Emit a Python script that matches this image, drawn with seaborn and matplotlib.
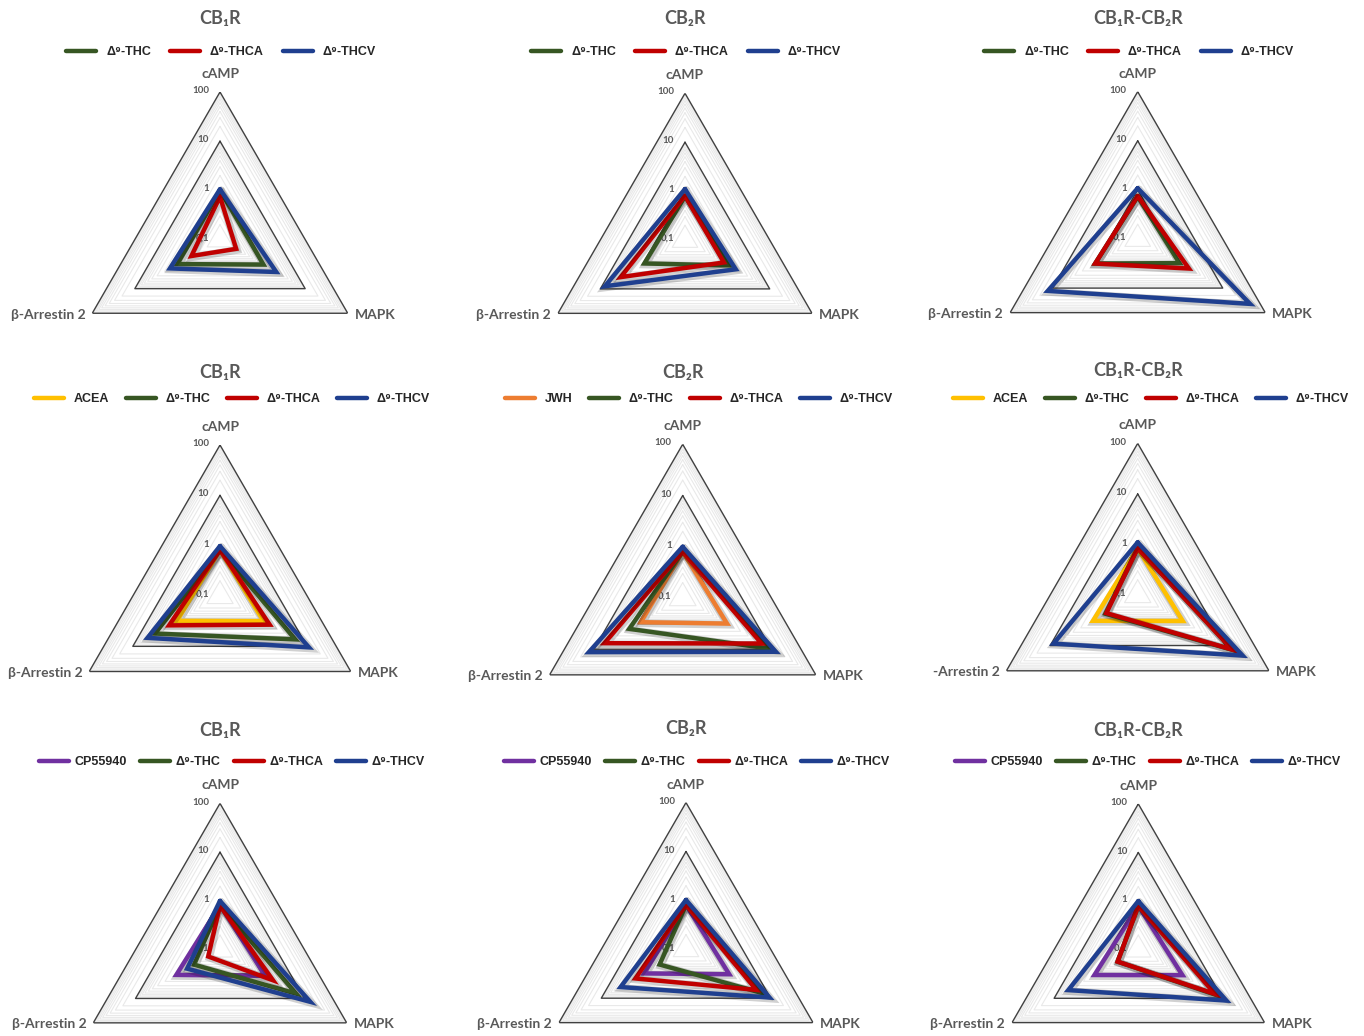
import numpy as np
import matplotlib
matplotlib.use('Agg')
import matplotlib.pyplot as plt
import matplotlib.patheffects as pe
from matplotlib.lines import Line2D
import seaborn as sns

# ---------------- data ----------------
axis_labels = ['cAMP', 'MAPK', 'β-Arrestin 2']          # order of the radar axes
tick_values = [0.1, 1, 10, 100]
tick_labels = ['0,1', '1', '10', '100']
titles = ['CB₁R', 'CB₂R', 'CB₁R-CB₂R']

# values per compound: [cAMP, MAPK, β-Arrestin 2]
# row 1
r1_cb1_thc = [1.0, 1.05, 1.0]
r1_cb1_thca = [0.74, 0.24, 0.47]
r1_cb1_thcv = [1.05, 2.1, 1.5]
r1_cb2_thc = [0.78, 1.1, 0.91]
r1_cb2_thca = [0.8, 0.83, 3.3]
r1_cb2_thcv = [1.1, 1.58, 7.8]
r1_het_thc = [0.73, 0.96, 1.0]
r1_het_thca = [0.75, 1.6, 1.0]
r1_het_thcv = [1.08, 44, 13]
# row 2
r2_cb1_acea = [0.82, 1.0, 0.97]
r2_cb1_thc = [0.82, 5.3, 3.1]
r2_cb1_thca = [0.82, 1.38, 1.47]
r2_cb1_thcv = [0.98, 11, 4.6]
r2_cb2_jwh = [0.8, 1.0, 0.88]
r2_cb2_thc = [0.8, 9.6, 1.6]
r2_cb2_thca = [0.8, 6.0, 5.8]
r2_cb2_thcv = [1.0, 12.6, 13]
r2_het_acea = [0.84, 1.07, 1.05]
r2_het_thc = [0.84, 15, 0.55]
r2_het_thca = [0.84, 14.5, 0.52]
r2_het_thcv = [1.1, 25, 8.4]
# row 3
r3_cb1_cp = [0.82, 1.18, 1.08]
r3_cb1_thc = [0.82, 6.3, 0.41]
r3_cb1_thca = [0.8, 1.8, 0.19]
r3_cb1_thcv = [1.0, 13.8, 0.6]
r3_cb2_cp = [0.81, 1.05, 0.97]
r3_cb2_thc = [0.81, 6.0, 0.42]
r3_cb2_thca = [0.81, 4.6, 1.56]
r3_cb2_thcv = [1.02, 9.4, 3.5]
r3_het_cp = [0.8, 1.12, 1.1]
r3_het_thc = [0.8, 7.5, 0.31]
r3_het_thca = [0.8, 6.7, 0.31]
r3_het_thcv = [1.0, 12.4, 4.6]

THC, THCA, THCV = 'Δ⁹-THC', 'Δ⁹-THCA', 'Δ⁹-THCV'
colors = {'ACEA': '#FFC000', 'JWH': '#ED7D31', 'CP55940': '#7030A0',
          THC: '#375623', THCA: '#C00000', THCV: '#1F3F8F'}

# (centre x, centre y, radius, title y, legend x, legend y) in pixels; series; left label
panels = [
    (220.0, 239.5, 147.5, 19, 221, 52, titles[0],
     [(THC, r1_cb1_thc), (THCA, r1_cb1_thca), (THCV, r1_cb1_thcv)], axis_labels[2]),
    (685.0, 240.0, 146.7, 19, 686, 52, titles[1],
     [(THC, r1_cb2_thc), (THCA, r1_cb2_thca), (THCV, r1_cb2_thcv)], axis_labels[2]),
    (1137.7, 239.0, 147.3, 19, 1139, 52, titles[2],
     [(THC, r1_het_thc), (THCA, r1_het_thca), (THCV, r1_het_thcv)], axis_labels[2]),
    (220.0, 596.0, 151.0, 372, 232, 399, titles[0],
     [('ACEA', r2_cb1_acea), (THC, r2_cb1_thc), (THCA, r2_cb1_thca), (THCV, r2_cb1_thcv)], axis_labels[2]),
    (682.7, 598.0, 153.7, 372, 699, 399, titles[1],
     [('JWH', r2_cb2_jwh), (THC, r2_cb2_thc), (THCA, r2_cb2_thca), (THCV, r2_cb2_thcv)], axis_labels[2]),
    (1137.7, 595.0, 151.6, 370, 1151, 399, titles[2],
     [('ACEA', r2_het_acea), (THC, r2_het_thc), (THCA, r2_het_thca), (THCV, r2_het_thcv)], '-Arrestin 2'),
    (220.0, 949.7, 146.3, 730, 232, 762, titles[0],
     [('CP55940', r3_cb1_cp), (THC, r3_cb1_thc), (THCA, r3_cb1_thca), (THCV, r3_cb1_thcv)], axis_labels[2]),
    (686.0, 949.3, 146.7, 729, 697, 762, titles[1],
     [('CP55940', r3_cb2_cp), (THC, r3_cb2_thc), (THCA, r3_cb2_thca), (THCV, r3_cb2_thcv)], axis_labels[2]),
    (1138.3, 949.7, 145.8, 731, 1148, 762, titles[2],
     [('CP55940', r3_het_cp), (THC, r3_het_thc), (THCA, r3_het_thca), (THCV, r3_het_thcv)], axis_labels[2]),
]

# ---------------- drawing ----------------
sns.set_theme(style='white')
plt.rcParams['font.family'] = ['Lato', 'Noto Sans', 'DejaVu Sans']
W, H = 1364, 1036
fig = plt.figure(figsize=(W / 100, H / 100), dpi=100)
fig.patch.set_facecolor('white')

theta = np.array([0, 2 * np.pi / 3, 4 * np.pi / 3, 2 * np.pi])
label_gray = '#595959'
gray_font = ['Lato', 'Noto Sans', 'DejaVu Sans']
legend_font = dict(family=['Liberation Sans', 'DejaVu Sans'], weight='bold', size=9)

for i, (cx, cy, R, ty, lx, ly, title, series, left_label) in enumerate(panels):
    ax = fig.add_axes([(cx - R) / W, 1 - (cy + R) / H, 2 * R / W, 2 * R / H], projection='polar')
    ax.set_theta_offset(np.pi / 2)
    ax.set_theta_direction(-1)
    ax.set_rscale('log')
    ax.set_rlim(0.1, 100)
    ax.grid(False)
    ax.spines['polar'].set_visible(False)
    ax.set_facecolor('none')

    # minor (faint) and major triangular gridlines
    for dec in [0.1, 1, 10]:
        for m in range(2, 10):
            ax.plot(theta, [dec * m] * 4, color='#e9e9e9', lw=0.8, zorder=1)
    for lvl in [1, 10, 100]:
        ax.plot(theta, [lvl] * 4, color='#404040', lw=1.0, zorder=2)

    # data polygons
    for name, vals in series:
        v = list(vals) + [vals[0]]
        sns.lineplot(x=theta, y=v, sort=False, estimator=None, color=colors[name],
                     lw=3.2, ax=ax, legend=False, zorder=5)
        ln = ax.lines[-1]
        ln.set_solid_joinstyle('miter')
        ln.set_path_effects([pe.SimpleLineShadow(offset=(0.8, -0.8), shadow_color='black',
                                                 alpha=0.18, linewidth=5.5),
                             pe.Normal()])

    ax.set_rscale('log')
    ax.set_rlim(0.1, 100)
    ax.set_xticks([])
    ax.set_yticks([])
    ax.set_yticks([], minor=True)
    ax.set_xlabel('')
    ax.set_ylabel('')

    # radial tick labels along the cAMP axis
    for tv, tl in zip(tick_values, tick_labels):
        ax.annotate(tl, xy=(0, tv), xytext=(-8, 1), textcoords='offset points',
                    ha='right', va='center', fontsize=7, color=label_gray, family=gray_font,
                    fontweight='bold', annotation_clip=False)

    # axis labels
    ax.annotate(axis_labels[0], xy=(0, 100), xytext=(0, 13), textcoords='offset points',
                ha='center', va='center', fontsize=10, fontweight='bold', color=label_gray,
                family=gray_font, annotation_clip=False)
    ax.annotate(axis_labels[1], xy=(2 * np.pi / 3, 100), xytext=(5, -1), textcoords='offset points',
                ha='left', va='center', fontsize=10, fontweight='bold', color=label_gray,
                family=gray_font, annotation_clip=False)
    ax.annotate(left_label, xy=(4 * np.pi / 3, 100), xytext=(-5, -1), textcoords='offset points',
                ha='right', va='center', fontsize=10, fontweight='bold', color=label_gray,
                family=gray_font, annotation_clip=False)

    # title and legend
    fig.text(cx / W, 1 - ty / H, title, ha='center', va='center', fontsize=13,
             fontweight='bold', color=label_gray, family=gray_font)
    handles = [Line2D([0], [0], color=colors[n], lw=3.2) for n, _ in series]
    if i >= 6:
        htp, csp = 0.45, 1.05
    elif i >= 3:
        htp, csp = 0.8, 1.3
    else:
        htp, csp = 0.8, 1.5
    fig.legend(handles, [n for n, _ in series], loc='center',
               bbox_to_anchor=(lx / W, 1 - ly / H), ncol=len(series), frameon=False,
               prop=legend_font, handlelength=2.4, handletextpad=htp, columnspacing=csp,
               borderaxespad=0, borderpad=0)

fig.savefig('out.png', dpi=100, facecolor='white')
